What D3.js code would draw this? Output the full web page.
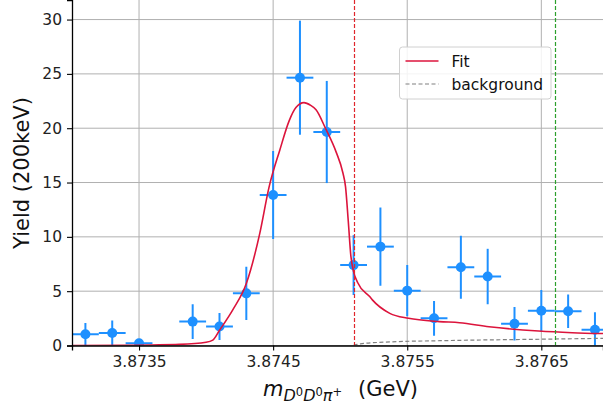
<!DOCTYPE html>
<html>
<head>
<meta charset="utf-8">
<script src="https://cdn.jsdelivr.net/npm/d3@7"></script>
<style>
  body { margin: 0; background: #fff; }
  svg { display: block; font-family: "DejaVu Sans", sans-serif; }
</style>
</head>
<body>
<svg width="603" height="409"></svg>
<script>
// binned data (200 keV bins)
var binX = [3.8731, 3.8733, 3.8735, 3.8739, 3.8741, 3.8743, 3.8745, 3.8747, 3.8749, 3.8751,
            3.8753, 3.8755, 3.8757, 3.8759, 3.8761, 3.8763, 3.8765, 3.8767, 3.8769];
var binY = [1.03, 1.15, 0.2, 2.2, 1.75, 4.8, 13.85, 24.65, 19.65, 7.4,
            9.1, 5.05, 2.5, 7.2, 6.35, 2.0, 3.2, 3.15, 1.45];
var binErr = [1.05, 1.15, 0.2, 1.6, 1.25, 2.45, 4.05, 5.25, 4.7, 2.75,
              3.6, 2.35, 1.6, 2.9, 2.55, 1.55, 1.9, 1.55, 1.6];
var halfBin = 0.0001;

// fit curve
var fitX = [3.8730, 3.8734, 3.8736, 3.8738, 3.8740, 3.87405, 3.8741, 3.8742, 3.8743, 3.8744,
            3.87447, 3.87455, 3.87462, 3.87467, 3.87473, 3.87478, 3.87482, 3.87489, 3.87497, 3.87502,
            3.87504, 3.87506, 3.87508, 3.8751, 3.87513, 3.87522, 3.87524, 3.87537, 3.87551, 3.87574,
            3.87589, 3.87611, 3.87648, 3.87673, 3.87696];
var fitY = [0.0, 0.02, 0.05, 0.1, 0.3, 0.5, 1.4, 3.3, 5.7, 10.3,
            14.6, 18.0, 20.7, 21.9, 22.35, 22.1, 21.7, 20.0, 17.8, 15.9,
            14.6, 11.5, 8.2, 6.8, 5.8, 4.5, 4.2, 2.96, 2.5, 2.2,
            2.1, 1.73, 1.33, 1.18, 1.1];

// background component
var bgX = [3.8751, 3.87515, 3.87537, 3.87574, 3.8765, 3.87696];
var bgY = [0.02, 0.15, 0.33, 0.44, 0.58, 0.66];

var xTicks = [3.8735, 3.8745, 3.8755, 3.8765];
var yTicks = [0, 5, 10, 15, 20, 25, 30];
var vLines = [{x: 3.8751, color: "#e0262c"}, {x: 3.8766, color: "#2ca02c"}];
var legendItems = [{label: "Fit", color: "crimson", dash: null},
                   {label: "background", color: "grey", dash: "4,2.5"}];

var plotLeft = 72, plotRight = 603, plotTop = 0, plotBottom = 345.5;
var svg = d3.select("svg");

var x = d3.scaleLinear().domain([3.873, 3.87696]).range([plotLeft, plotRight]);
var y = d3.scaleLinear().domain([0, 31.8]).range([plotBottom, plotTop]);

svg.append("defs").append("clipPath").attr("id", "plot")
  .append("rect").attr("x", plotLeft).attr("y", plotTop)
  .attr("width", plotRight - plotLeft).attr("height", plotBottom - plotTop);

// grid
var grid = svg.append("g").attr("stroke", "#b0b0b0").attr("stroke-width", 1);
grid.selectAll(".gx").data(xTicks).enter().append("line")
  .attr("x1", d => x(d)).attr("x2", d => x(d)).attr("y1", plotTop).attr("y2", plotBottom);
grid.selectAll(".gy").data(yTicks).enter().append("line")
  .attr("x1", plotLeft).attr("x2", plotRight).attr("y1", d => y(d)).attr("y2", d => y(d));

var plot = svg.append("g").attr("clip-path", "url(#plot)");

// data points with error bars
var blue = "#1e90ff";
var pts = plot.selectAll(".pt").data(binX.map((v, i) => ({x: v, y: binY[i], e: binErr[i]})))
  .enter().append("g");
pts.append("line").attr("stroke", blue).attr("stroke-width", 2)
  .attr("x1", d => x(d.x)).attr("x2", d => x(d.x))
  .attr("y1", d => y(d.y - d.e)).attr("y2", d => y(d.y + d.e));
pts.append("line").attr("stroke", blue).attr("stroke-width", 2)
  .attr("x1", d => x(d.x - halfBin)).attr("x2", d => x(d.x + halfBin))
  .attr("y1", d => y(d.y)).attr("y2", d => y(d.y));
pts.append("circle").attr("fill", blue)
  .attr("cx", d => x(d.x)).attr("cy", d => y(d.y)).attr("r", 5);

// fit and background
var line = d3.line().x(d => x(d[0])).y(d => y(d[1])).curve(d3.curveMonotoneX);
plot.append("path").datum(fitX.map((v, i) => [v, fitY[i]]))
  .attr("d", line).attr("fill", "none").attr("stroke", "crimson").attr("stroke-width", 1.6);
plot.append("path").datum(bgX.map((v, i) => [v, bgY[i]]))
  .attr("d", line).attr("fill", "none").attr("stroke", "grey").attr("stroke-width", 1.2)
  .attr("stroke-dasharray", "4,2.5");

// vertical markers
plot.selectAll(".vl").data(vLines).enter().append("line")
  .attr("x1", d => Math.round(x(d.x)) + 0.5).attr("x2", d => Math.round(x(d.x)) + 0.5)
  .attr("y1", plotTop).attr("y2", plotBottom)
  .attr("stroke", d => d.color).attr("stroke-width", 1.2).attr("stroke-dasharray", "4,2");

// axes
var xAxis = svg.append("g").attr("transform", "translate(0," + plotBottom + ")")
  .call(d3.axisBottom(x).tickValues(xTicks).tickFormat(d3.format(".4f")).tickSizeOuter(0).tickSize(5).tickPadding(5));
var yAxis = svg.append("g").attr("transform", "translate(" + plotLeft + ",0)")
  .call(d3.axisLeft(y).tickValues(yTicks).tickSizeOuter(0).tickSize(5).tickPadding(5));
[xAxis, yAxis].forEach(function(a) {
  a.select(".domain").attr("stroke", "#000").attr("stroke-width", 1.3);
  a.selectAll(".tick line").attr("stroke", "#000").attr("stroke-width", 1.1);
  a.selectAll(".tick text").attr("fill", "#222").style("font-size", "15.5px").style("font-family", "DejaVu Sans");
});

// axis labels
svg.append("text").attr("transform", "translate(29,173) rotate(-90)")
  .attr("text-anchor", "middle").style("font-size", "21px").attr("fill", "#111")
  .text("Yield (200keV)");

var xl = svg.append("text").attr("x", 263).attr("y", 396)
  .style("font-size", "21px").attr("fill", "#111");
xl.append("tspan").style("font-style", "italic").text("m");
xl.append("tspan").attr("dy", 5).style("font-size", "16px").style("font-style", "italic").text("D");
xl.append("tspan").attr("dy", -5).style("font-size", "11.5px").text("0");
xl.append("tspan").attr("dy", 5).style("font-size", "16px").style("font-style", "italic").text("D");
xl.append("tspan").attr("dy", -5).style("font-size", "11.5px").text("0");
xl.append("tspan").attr("dy", 5).style("font-size", "16px").style("font-style", "italic").text("π");
xl.append("tspan").attr("dy", -5).style("font-size", "11.5px").text("+");
xl.append("tspan").attr("x", 358).attr("dy", 0).text("(GeV)");

// legend
var lg = svg.append("g").attr("transform", "translate(399.5,47)");
lg.append("rect").attr("width", 151.5).attr("height", 52).attr("rx", 3)
  .attr("fill", "#fff").attr("fill-opacity", 0.85).attr("stroke", "#d0d0d0").attr("stroke-width", 1);
var li = lg.selectAll(".li").data(legendItems).enter().append("g")
  .attr("transform", (d, i) => "translate(0," + (14 + i * 23) + ")");
li.append("line").attr("x1", 6).attr("x2", 39).attr("stroke", d => d.color)
  .attr("stroke-width", d => d.dash ? 1.2 : 1.6).attr("stroke-dasharray", d => d.dash);
li.append("text").attr("x", 52).attr("y", 5.5).style("font-size", "15.5px").attr("fill", "#111")
  .text(d => d.label);
</script>
</body>
</html>
